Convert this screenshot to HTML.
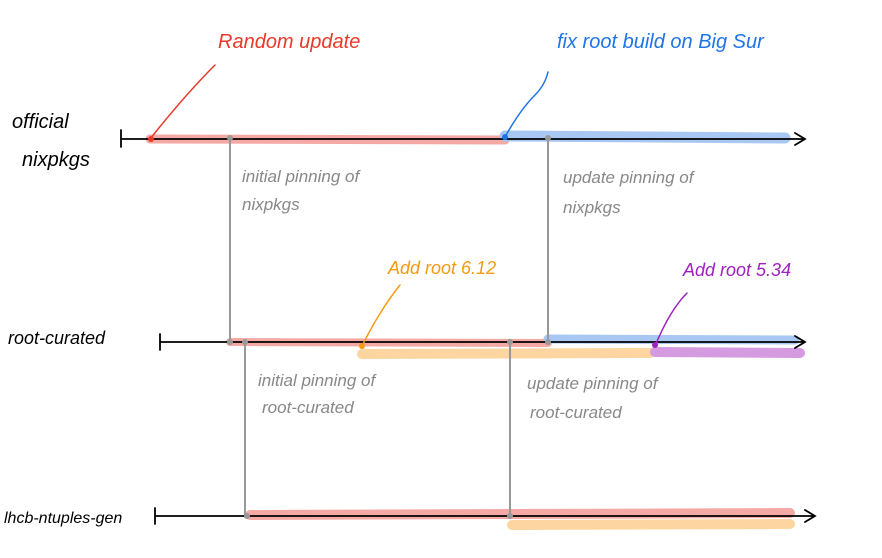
<!DOCTYPE html>
<html><head><meta charset="utf-8"><style>
html,body{margin:0;padding:0;background:#fff;}
svg{display:block;}
text{font-family:"Liberation Sans",sans-serif;font-style:italic;}
</style></head><body>
<svg width="882" height="558" viewBox="0 0 882 558" xmlns="http://www.w3.org/2000/svg">
<g stroke-linecap="round" fill="none">
<!-- highlights -->
<path d="M150 139 L505 140" stroke="#f5a9a5" stroke-width="9"/>
<path d="M505 136 L785 138" stroke="#a8c7f2" stroke-width="11"/>
<path d="M230 342 L548 343" stroke="#f5a9a5" stroke-width="8"/>
<path d="M548 339 L795 340" stroke="#a8c7f2" stroke-width="9"/>
<path d="M362 354 L650 353" stroke="#fdd5a0" stroke-width="10"/>
<path d="M655 352 L800 353" stroke="#d59be0" stroke-width="10"/>
<path d="M250 515 L790 513" stroke="#f5a9a5" stroke-width="10"/>
<path d="M512 525 L790 524" stroke="#fdd5a0" stroke-width="10"/>
<!-- gray verticals -->
<path d="M230 138 L230 342 M548 138 L548 342 M245 342 L245 517 M510 342 L510 517" stroke="#999" stroke-width="2"/>
<!-- timelines -->
<path d="M121 130 L121 147 M121 139 L805 139 M795 133 L805 139 L795 145" stroke="#000" stroke-width="1.8"/>
<path d="M160 334 L160 350 M160 342 L805 342 M795 336 L805 342 L795 348" stroke="#000" stroke-width="1.8"/>
<path d="M155 508 L155 524 M155 516 L815 516 M805 510 L815 516 L805 522" stroke="#000" stroke-width="1.8"/>
<!-- callouts -->
<path d="M150 139 Q185 95 215 65" stroke="#e8392a" stroke-width="1.5"/>
<path d="M505 137 Q520 110 535 95 Q545 85 548 72" stroke="#1f75e6" stroke-width="1.5"/>
<path d="M362 346 Q380 310 400 285" stroke="#f59a12" stroke-width="1.5"/>
<path d="M655 346 Q670 310 687 293" stroke="#a020c0" stroke-width="1.5"/>
</g>
<g>
<circle cx="151" cy="139" r="3" fill="#e8392a"/>
<circle cx="505" cy="137" r="3" fill="#1f75e6"/>
<circle cx="362" cy="346" r="3" fill="#f59a12"/>
<circle cx="655" cy="345" r="3" fill="#a020c0"/>
<circle cx="230" cy="138" r="3" fill="#999"/><circle cx="548" cy="138" r="3" fill="#999"/>
<circle cx="230" cy="342" r="3" fill="#999"/><circle cx="548" cy="342" r="3" fill="#999"/>
<circle cx="245" cy="342" r="3" fill="#999"/><circle cx="510" cy="342" r="3" fill="#999"/>
<circle cx="247" cy="516" r="3" fill="#999"/><circle cx="510" cy="516" r="3" fill="#999"/>
</g>
<g font-size="20">
<text x="12" y="128" fill="#000">official</text>
<text x="22" y="166" fill="#000">nixpkgs</text>
<text x="8" y="344" fill="#000" font-size="18">root-curated</text>
<text x="4" y="523" fill="#000" font-size="16">lhcb-ntuples-gen</text>
<text x="218" y="48" fill="#e8392a">Random update</text>
<text x="557" y="48" fill="#1f75e6">fix root build on Big Sur</text>
<text x="388" y="274" fill="#f59a12" font-size="18">Add root 6.12</text>
<text x="683" y="276" fill="#a020c0" font-size="18">Add root 5.34</text>
</g>
<g font-size="17" fill="#888">
<text x="242" y="182">initial pinning of</text>
<text x="242" y="210">nixpkgs</text>
<text x="563" y="183">update pinning of</text>
<text x="563" y="213">nixpkgs</text>
<text x="258" y="386">initial pinning of</text>
<text x="262" y="413">root-curated</text>
<text x="527" y="389">update pinning of</text>
<text x="530" y="418">root-curated</text>
</g>
</svg>
</body></html>
